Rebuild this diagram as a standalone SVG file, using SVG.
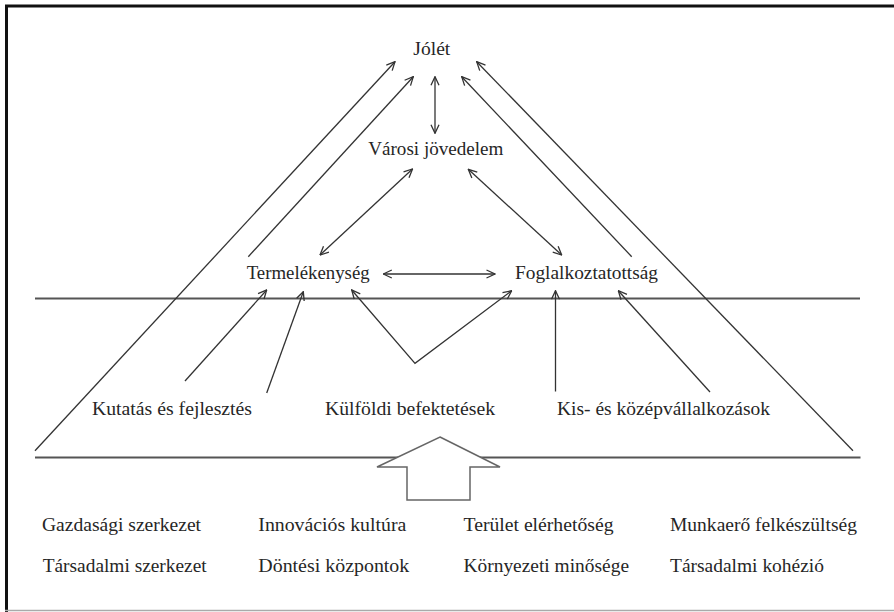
<svg xmlns="http://www.w3.org/2000/svg" width="894" height="612" viewBox="0 0 894 612">
<defs>
<style>
.t{font-family:"Liberation Serif","Times New Roman",serif;font-size:18px;fill:#262626;}
.c{fill:none;stroke:#333;stroke-width:1.3;}
.h{fill:none;stroke:#555;stroke-width:2;}
</style>
<marker id="ah" markerUnits="userSpaceOnUse" viewBox="0 0 10 10" refX="9.5" refY="5" markerWidth="10" markerHeight="10" orient="auto-start-reverse">
<path d="M1,1 L9.5,5 L1,9" fill="none" stroke="#333" stroke-width="1.3"/>
</marker>
</defs>
<rect x="0" y="0" width="894" height="612" fill="#fff"/>
<g id="frame">
<line x1="5" y1="6" x2="894" y2="6" stroke="#111" stroke-width="3"/>
<line x1="6.5" y1="5" x2="6.5" y2="612" stroke="#111" stroke-width="3"/>
<line x1="5" y1="610.5" x2="894" y2="610.5" stroke="#aaa" stroke-width="1.5"/>
</g>
<g id="levels">
<line class="h" x1="35" y1="298.5" x2="860" y2="298.5"/>
<line class="h" x1="35" y1="457.5" x2="860.5" y2="457.5"/>
</g>
<g id="connectors">
<line class="c" x1="35" y1="450.7" x2="395" y2="61.7" marker-end="url(#ah)"/>
<line class="c" x1="248.3" y1="256.7" x2="413.3" y2="76.7" marker-end="url(#ah)"/>
<line class="c" x1="631.7" y1="256.7" x2="461.7" y2="76.7" marker-end="url(#ah)"/>
<line class="c" x1="853" y1="450.7" x2="476.7" y2="61.7" marker-end="url(#ah)"/>
<line class="c" x1="435" y1="76.7" x2="435" y2="133.3" marker-start="url(#ah)" marker-end="url(#ah)"/>
<line class="c" x1="412.5" y1="169" x2="320" y2="255" marker-start="url(#ah)" marker-end="url(#ah)"/>
<line class="c" x1="468.3" y1="169.3" x2="561.7" y2="255" marker-start="url(#ah)" marker-end="url(#ah)"/>
<line class="c" x1="383.3" y1="274" x2="495" y2="274" marker-start="url(#ah)" marker-end="url(#ah)"/>
<line class="c" x1="185" y1="381" x2="266.7" y2="290" marker-end="url(#ah)"/>
<line class="c" x1="266.7" y1="393" x2="303.3" y2="291.7" marker-end="url(#ah)"/>
<polyline class="c" points="351.7,290 415,363.3 511.7,290.7" marker-start="url(#ah)" marker-end="url(#ah)"/>
<line class="c" x1="555.5" y1="391.5" x2="555.5" y2="290.7" marker-end="url(#ah)"/>
<line class="c" x1="710" y1="392" x2="618.3" y2="290.7" marker-end="url(#ah)"/>
<polygon points="440,437 500,467 470,467 470,500 407,500 407,467 377,467" fill="#fff" stroke="#666" stroke-width="1.5"/>
</g>
<g id="jolet"><text class="t" x="413.3" y="55" textLength="37" lengthAdjust="spacingAndGlyphs">Jólét</text></g>
<g id="varosi-jovedelem"><text class="t" x="368.3" y="155" textLength="135" lengthAdjust="spacingAndGlyphs">Városi jövedelem</text></g>
<g id="termelekenyseg"><text class="t" x="246.7" y="279" textLength="123" lengthAdjust="spacingAndGlyphs">Termelékenység</text></g>
<g id="foglalkoztatottsag"><text class="t" x="515" y="279" textLength="143" lengthAdjust="spacingAndGlyphs">Foglalkoztatottság</text></g>
<g id="kutatas"><text class="t" x="92" y="415" textLength="160" lengthAdjust="spacingAndGlyphs">Kutatás és fejlesztés</text></g>
<g id="kulfoldi"><text class="t" x="325" y="415" textLength="170" lengthAdjust="spacingAndGlyphs">Külföldi befektetések</text></g>
<g id="kkv"><text class="t" x="557" y="415" textLength="213" lengthAdjust="spacingAndGlyphs">Kis- és középvállalkozások</text></g>
<g id="factors">
<text class="t" x="42" y="531" textLength="159" lengthAdjust="spacingAndGlyphs">Gazdasági szerkezet</text>
<text class="t" x="258.3" y="531" textLength="148" lengthAdjust="spacingAndGlyphs">Innovációs kultúra</text>
<text class="t" x="463.5" y="531" textLength="150" lengthAdjust="spacingAndGlyphs">Terület elérhetőség</text>
<text class="t" x="670" y="531" textLength="187" lengthAdjust="spacingAndGlyphs">Munkaerő felkészültség</text>
<text class="t" x="42.7" y="572" textLength="164" lengthAdjust="spacingAndGlyphs">Társadalmi szerkezet</text>
<text class="t" x="258.3" y="572" textLength="151" lengthAdjust="spacingAndGlyphs">Döntési központok</text>
<text class="t" x="463.5" y="572" textLength="165.5" lengthAdjust="spacingAndGlyphs">Környezeti minősége</text>
<text class="t" x="670" y="572" textLength="154" lengthAdjust="spacingAndGlyphs">Társadalmi kohézió</text>
</g>
</svg>
